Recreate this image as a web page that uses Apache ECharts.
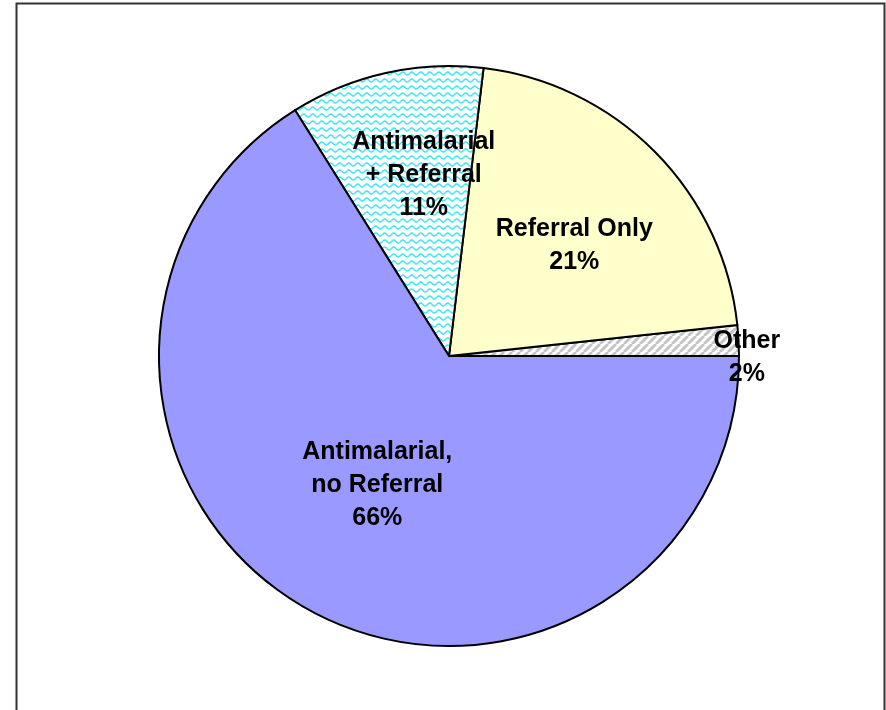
<!DOCTYPE html>
<html><head><meta charset="utf-8">
<script src="https://cdn.jsdelivr.net/npm/echarts@6/dist/echarts.min.js"></script>
<style>html,body{margin:0;padding:0;background:#fff}#c{width:886px;height:710px}</style>
</head><body><div id="c"></div>
<script>
// Data, counter-clockwise from 3 o'clock
const categories = ['Other', 'Referral Only', 'Antimalarial\n+ Referral', 'Antimalarial,\nno Referral'];
const values = [1.7, 21.4, 10.8, 66.1];

function wavePattern() {
  const c = document.createElement('canvas');
  c.width = 9; c.height = 7;
  const g = c.getContext('2d');
  g.fillStyle = '#ffffff'; g.fillRect(0, 0, 9, 7);
  g.strokeStyle = '#3ee8f2'; g.lineWidth = 1.5;
  g.beginPath();
  for (let x = -1; x <= 10; x += 0.5) {
    const y = 3.5 + 1.4 * Math.sin((x / 9) * Math.PI * 2);
    if (x === -1) g.moveTo(x, y); else g.lineTo(x, y);
  }
  g.stroke();
  return c;
}
function hatchPattern() {
  const c = document.createElement('canvas');
  c.width = 8; c.height = 8;
  const g = c.getContext('2d');
  g.fillStyle = '#ffffff'; g.fillRect(0, 0, 8, 8);
  g.strokeStyle = '#c4c4c4'; g.lineWidth = 3;
  g.beginPath();
  for (let k = -8; k <= 16; k += 8) { g.moveTo(k, 8); g.lineTo(k + 8, 0); }
  g.stroke();
  return c;
}

const fills = [
  { image: hatchPattern(), repeat: 'repeat' },
  '#ffffcc',
  { image: wavePattern(), repeat: 'repeat' },
  '#9999ff'
];
const offsets = [[150, 10], [20, -6], [7, -36], [0, 0]];

const chart = echarts.init(document.getElementById('c'), null, { renderer: 'canvas' });
chart.setOption({
  animation: false,
  backgroundColor: '#ffffff',
  graphic: [{
    type: 'rect', left: 14, top: 1,
    shape: { width: 868, height: 730 },
    style: { fill: 'none', stroke: '#333333', lineWidth: 2 }
  }],
  series: [{
    type: 'pie',
    center: [449, 356],
    radius: 290,
    startAngle: 0,
    clockwise: false,
    percentPrecision: 0,
    avoidLabelOverlap: false,
    itemStyle: { borderColor: '#000000', borderWidth: 2 },
    emphasis: { disabled: true },
    label: {
      show: true,
      position: 'inside',
      fontFamily: 'Liberation Sans, Arial, sans-serif',
      fontWeight: 'bold',
      fontSize: 25,
      lineHeight: 33,
      color: '#000000',
      align: 'center',
      formatter: p => p.name + '\n' + Math.round(p.percent) + '%'
    },
    labelLine: { show: false },
    data: categories.map((n, i) => ({
      name: n, value: values[i],
      itemStyle: { color: fills[i] },
      label: { offset: offsets[i] }
    }))
  }]
});
</script></body></html>
